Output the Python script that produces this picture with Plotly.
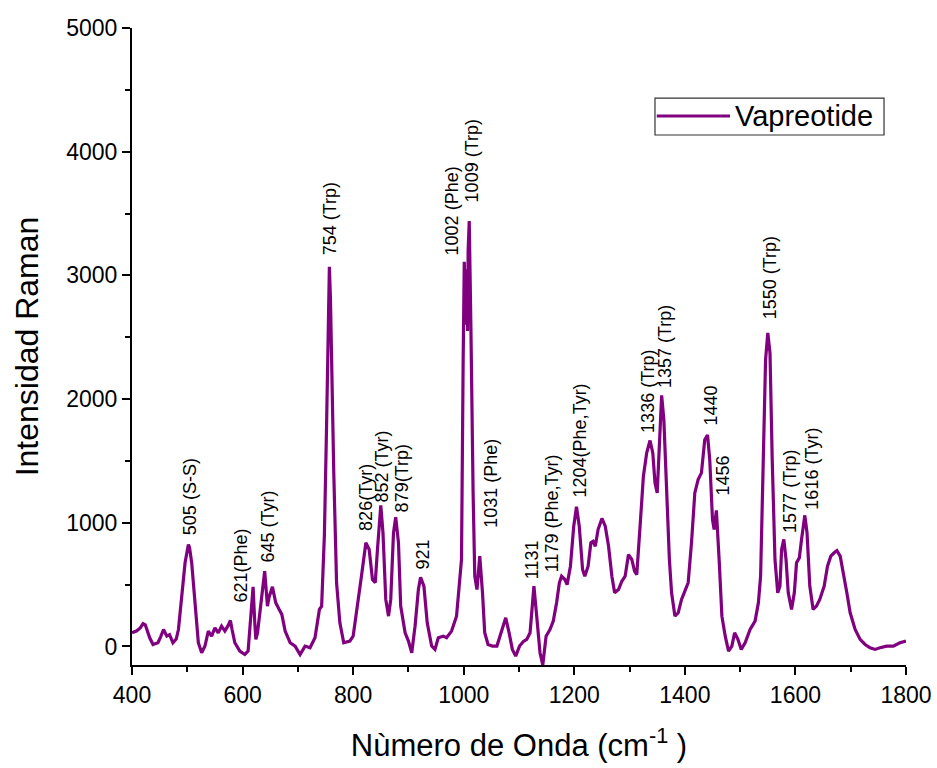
import plotly.graph_objects as go

wavenumber = [400, 408, 415, 420, 424, 427, 432, 438, 447, 452, 457, 463, 468, 474, 480, 484, 490, 496, 502, 504,
              508, 514, 520, 526, 532, 538, 544, 550, 556, 562, 568, 574, 578, 581, 586, 595, 604, 610, 615, 619,
              622, 624, 627, 634, 640, 645, 648, 654, 660, 666, 671, 677, 686, 695, 704, 713, 722, 731, 739, 743,
              748, 752, 755, 757, 759, 762, 765, 770, 776, 783, 794, 800, 809, 815, 823, 827, 829, 835, 840, 844,
              850, 854, 859, 864, 868, 873, 877, 882, 886, 894, 900, 906, 912, 918, 922, 928, 934, 942, 948, 954,
              963, 969, 978, 987, 993, 996, 999, 1001, 1003, 1004, 1005, 1006, 1007, 1008, 1010, 1012, 1013, 1017, 1020, 1024,
              1029, 1034, 1038, 1044, 1052, 1060, 1068, 1076, 1082, 1088, 1094, 1101, 1108, 1114, 1120, 1127, 1132, 1138, 1143, 1149,
              1156, 1162, 1168, 1173, 1177, 1183, 1187, 1193, 1199, 1204, 1209, 1215, 1219, 1225, 1230, 1234, 1238, 1243, 1250, 1256,
              1262, 1268, 1273, 1280, 1286, 1292, 1298, 1304, 1309, 1313, 1319, 1325, 1331, 1337, 1342, 1346, 1350, 1354, 1358, 1362,
              1367, 1372, 1376, 1382, 1388, 1394, 1400, 1406, 1412, 1418, 1424, 1430, 1436, 1441, 1445, 1450, 1453, 1457, 1462, 1467,
              1473, 1479, 1485, 1490, 1496, 1502, 1509, 1518, 1527, 1533, 1537, 1542, 1546, 1550, 1554, 1558, 1563, 1568, 1572, 1575,
              1579, 1583, 1587, 1593, 1598, 1602, 1607, 1611, 1617, 1621, 1626, 1632, 1638, 1644, 1652, 1658, 1664, 1670, 1675, 1681,
              1687, 1693, 1699, 1708, 1717, 1726, 1735, 1744, 1753, 1765, 1777, 1789, 1800]

intensity = [110, 125, 150, 185, 175, 137, 70, 16, 30, 80, 137, 83, 95, 30, 60, 137, 380, 676, 824, 800,
             676, 355, 30, -51, 3, 124, 83, 151, 110, 164, 124, 170, 210, 137, 30, -38, -65, -38, 299, 482,
             200, 57, 110, 380, 608, 326, 400, 482, 353, 300, 259, 124, 30, 3, -65, 3, -11, 70, 299, 326,
             900, 1800, 2700, 3070, 2800, 2000, 1400, 515, 191, 30, 43, 83, 353, 568, 838, 800, 784, 541, 515, 784,
             1140, 918, 380, 245, 380, 918, 1045, 838, 326, 111, 43, -51, 164, 460, 560, 487, 191, 3, -24, 70,
             83, 70, 124, 245, 515, 703, 2318, 3110, 2700, 3050, 2600, 3000, 2550, 3200, 3440, 3000, 2587, 1241, 568, 460,
             730, 434, 111, 16, 3, 3, 111, 232, 111, -24, -78, 3, 40, 57, 111, 487, 245, -51, -150, 83,
             137, 205, 353, 515, 568, 541, 500, 649, 972, 1130, 972, 622, 568, 649, 838, 850, 810, 945, 1035, 972,
             810, 568, 434, 460, 527, 568, 743, 703, 608, 580, 972, 1376, 1565, 1665, 1565, 1322, 1241, 1645, 2030, 1834,
             1241, 703, 434, 245, 272, 380, 447, 515, 838, 1241, 1349, 1403, 1672, 1710, 1511, 1026, 945, 1100, 703, 245,
             83, -38, 3, 110, 57, -24, 30, 137, 205, 353, 568, 1511, 2318, 2535, 2372, 1511, 703, 434, 487, 784,
             865, 703, 434, 299, 434, 676, 716, 864, 1060, 918, 487, 299, 326, 380, 487, 649, 730, 757, 775, 730,
             595, 434, 272, 137, 57, 16, -11, -24, -11, 3, 3, 30, 43]

peak_labels = ["505 (S-S)", "621(Phe)", "645 (Tyr)", "754 (Trp)", "826(Tyr)", "852 (Tyr)", "879(Trp)", "921",
               "1002 (Phe)", "1009 (Trp)", "1031 (Phe)", "1131", "1179 (Phe,Tyr)", "1204(Phe,Tyr)",
               "1336 (Trp)", "1357 (Trp)", "1440", "1456", "1550 (Trp)", "1577 (Trp)", "1616 (Tyr)"]
label_x = [505, 597, 646, 758, 823, 852, 888, 928, 979, 1015, 1049, 1124, 1161, 1210,
           1333, 1364, 1447, 1469, 1554, 1590, 1630]
label_y = [880, 339, 662, 3150, 921, 1147, 1066, 606, 3142, 3570, 945, 525, 582, 1187,
           1713, 2076, 1769, 1204, 2625, 905, 1090]

series_name = "Vapreotide"
x_title = "Nùmero de Onda (cm<sup>-1</sup> )"
y_title = "Intensidad Raman"

FONT = "Arial, Liberation Sans, sans-serif"
PURPLE = "#800080"

fig = go.Figure()
fig.add_trace(go.Scatter(x=wavenumber, y=intensity, mode="lines", name=series_name,
                         line=dict(color=PURPLE, width=3.2), showlegend=False))

for t, lx, ly in zip(peak_labels, label_x, label_y):
    fig.add_annotation(x=lx, y=ly, text=t, textangle=-90, showarrow=False,
                       xanchor="center", yanchor="bottom",
                       font=dict(family=FONT, size=18, color="black"))

# legend box (manual)
fig.add_shape(type="rect", xref="paper", yref="paper", x0=0.6757, x1=0.9716, y0=0.832, y1=0.890,
              line=dict(color="#333333", width=1.2), fillcolor="white")
fig.add_shape(type="line", xref="paper", yref="paper", x0=0.678, x1=0.7726, y0=0.862, y1=0.862,
              line=dict(color=PURPLE, width=3))
fig.add_annotation(xref="paper", yref="paper", x=0.7765, y=0.862, text=series_name, showarrow=False,
                   xanchor="left", yanchor="middle", font=dict(family=FONT, size=29, color="black"))

axis_common = dict(showline=True, linecolor="black", linewidth=2, ticks="outside", ticklen=8,
                   tickwidth=2, tickcolor="black", showgrid=False, zeroline=False, mirror=False,
                   tickfont=dict(family=FONT, size=23, color="black"))

fig.update_xaxes(range=[400, 1800], dtick=200, tick0=400,
                 minor=dict(dtick=100, ticks="outside", ticklen=5, tickwidth=2, tickcolor="black"),
                 title=dict(text=x_title, font=dict(family=FONT, size=31, color="black"), standoff=28),
                 **axis_common)
fig.update_yaxes(range=[-150, 5000], dtick=1000, tick0=0,
                 minor=dict(dtick=500, ticks="outside", ticklen=5, tickwidth=2, tickcolor="black"),
                 title=dict(text=y_title, font=dict(family=FONT, size=32, color="black"), standoff=18),
                 **axis_common)

fig.update_layout(width=937, height=768, plot_bgcolor="white", paper_bgcolor="white",
                  margin=dict(l=132, r=31, t=28, b=103, autoexpand=False))

fig.write_html("out.html")
